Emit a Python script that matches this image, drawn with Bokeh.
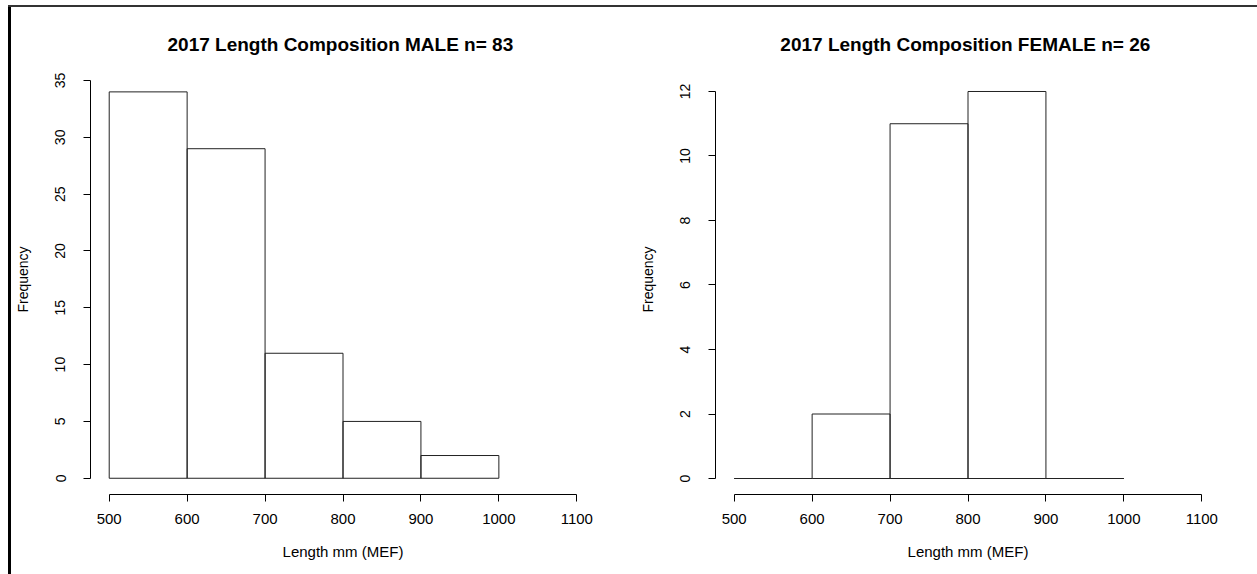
from bokeh.plotting import figure
from bokeh.models import Range1d, FixedTicker, Div, Spacer, ColumnDataSource
from bokeh.layouts import row, column
from bokeh.embed import file_html
from bokeh.resources import INLINE

# ---- data ----
bin_edges = [500, 600, 700, 800, 900, 1000]
male_counts = [34, 29, 11, 5, 2]
female_counts = [0, 2, 11, 12, 0]
x_ticks = [500, 600, 700, 800, 900, 1000, 1100]
male_y_ticks = [0, 5, 10, 15, 20, 25, 30, 35]
female_y_ticks = [0, 2, 4, 6, 8, 10, 12]
male_title = "2017  Length Composition MALE n= 83"
female_title = "2017  Length Composition FEMALE n= 26"
x_label = "Length mm (MEF)"
y_label = "Frequency"

FONT = "Liberation Sans"


def make_hist(counts, title, yticks, yrange, width, mbl, mbr):
    p = figure(width=width, height=567, output_backend="svg", toolbar_location=None,
               x_range=Range1d(476, 1124), y_range=Range1d(*yrange),
               min_border_left=mbl, min_border_right=mbr,
               min_border_top=57, min_border_bottom=80,
               title=title)
    p.outline_line_color = None
    p.xgrid.visible = False
    p.ygrid.visible = False
    p.background_fill_color = "white"
    p.border_fill_color = "white"

    src = ColumnDataSource(dict(left=bin_edges[:-1], right=bin_edges[1:],
                                top=counts, bottom=[0] * len(counts)))
    p.quad(left="left", right="right", top="top", bottom="bottom", source=src,
           fill_color=None, line_color="#222222", line_width=1)

    p.title.text_font = FONT
    p.title.text_font_size = "19px"
    p.title.text_font_style = "bold"
    p.title.text_color = "black"
    p.title.align = "center"
    p.title.standoff = 20

    for ax in (p.xaxis[0], p.yaxis[0]):
        ax.axis_line_color = "black"
        ax.major_tick_line_color = "black"
        ax.minor_tick_line_color = None
        ax.major_tick_out = 7
        ax.major_tick_in = 0
        ax.major_label_text_font = FONT
        ax.axis_label_text_font = FONT
        ax.axis_label_text_font_style = "normal"
        ax.major_label_text_color = "black"
        ax.axis_label_text_color = "black"

    xa = p.xaxis[0]
    xa.ticker = FixedTicker(ticks=x_ticks)
    xa.bounds = (x_ticks[0], x_ticks[-1])
    xa.major_label_text_font_size = "15px"
    xa.major_label_standoff = 12
    xa.axis_label = x_label
    xa.axis_label_text_font_size = "15px"
    xa.axis_label_standoff = 16

    ya = p.yaxis[0]
    ya.ticker = FixedTicker(ticks=yticks)
    ya.bounds = (yticks[0], yticks[-1])
    ya.major_label_text_font_size = "14px"
    ya.major_label_orientation = "vertical"
    ya.major_label_standoff = 18
    ya.axis_label = y_label
    ya.axis_label_text_font_size = "14px"
    ya.axis_label_standoff = 22
    return p


p1 = make_hist(male_counts, male_title, male_y_ticks, (-1.43, 36.41), 620, 79, 36)
p2 = make_hist(female_counts, female_title, female_y_ticks, (-0.496, 12.837), 626, 84, 37)

top_pad = Spacer(width=1257, height=5)
top_line = row(Spacer(width=8, height=2),
               Div(text="", width=1249, height=2, margin=0,
                   styles={"background-color": "#333333"}))
left_line = Div(text="", width=3, height=567, margin=0,
                styles={"background-color": "#000000"})
main = row(Spacer(width=8, height=567), left_line, p1, p2)
layout = column(top_pad, top_line, main)

open("out.html", "w").write(file_html(layout, INLINE))
